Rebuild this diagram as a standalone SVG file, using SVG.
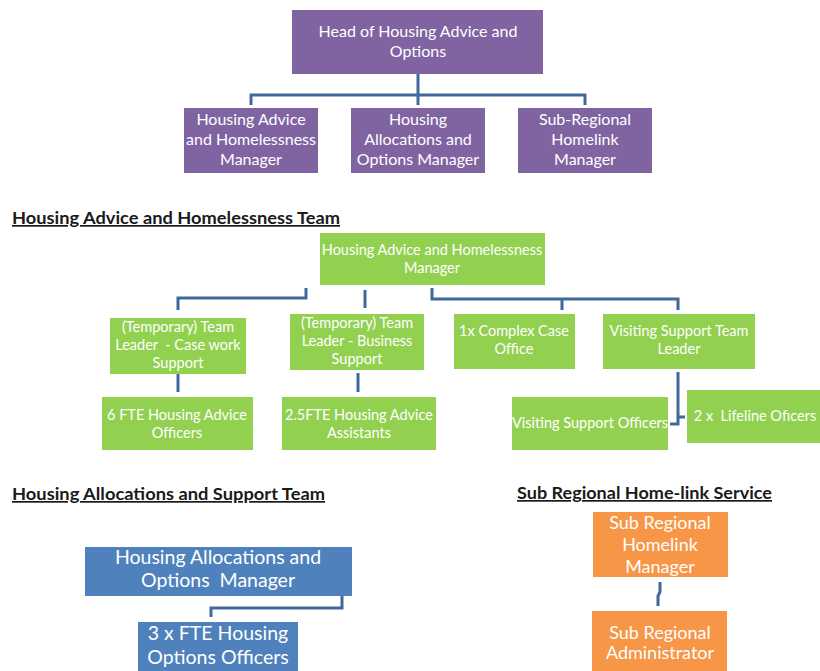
<svg xmlns="http://www.w3.org/2000/svg" width="820" height="671" viewBox="0 0 820 671">
<style>
.t{font-family:Lato,"Open Sans","Liberation Sans",sans-serif;fill:#fff;text-anchor:middle;white-space:pre}
.s15{font-size:16px}
.s14{font-size:14.5px}
.s19{font-size:19.5px}
.s17{font-size:18px}
.purple{fill:#8064A2}
.green{fill:#92D050}
.blue{fill:#4F81BD}
.orange{fill:#F79646}
.h{font-family:Lato,"Liberation Sans",sans-serif;font-weight:bold;font-size:17px;fill:#1a1a1a;text-decoration:underline}
.c{fill:none;stroke:#41689A;stroke-width:3}
</style>
<rect width="820" height="671" fill="#fff"/>
<g id="connectors">
<path class="c" d="M418 74V105M251 105V95H585V105"/>
<path class="c" d="M306 288V298H178V310"/>
<path class="c" d="M365 290V308"/>
<path class="c" d="M432 288V299H678V310M562 299V310"/>
<path class="c" d="M178 373V392"/>
<path class="c" d="M358 373V392"/>
<path class="c" d="M678 372V424H670M678 417H685"/>
<path class="c" d="M342 596V608H211V617"/>
<path class="c" d="M660 582V592L658 596V606"/>
</g>
<g id="head">
<rect class="purple" x="292" y="10" width="251" height="64"/>
<text class="t s15" x="418" y="37">Head of Housing Advice and</text>
<text class="t s15" x="418" y="57">Options</text>
</g>
<g id="hahm">
<rect class="purple" x="184" y="108" width="134" height="65"/>
<text class="t s15" x="251" y="125">Housing Advice</text>
<text class="t s15" x="251" y="145">and Homelessness</text>
<text class="t s15" x="251" y="165">Manager</text>
</g>
<g id="haom">
<rect class="purple" x="351" y="108" width="134" height="65"/>
<text class="t s15" x="418" y="125">Housing</text>
<text class="t s15" x="418" y="145">Allocations and</text>
<text class="t s15" x="418" y="165">Options Manager</text>
</g>
<g id="srhm">
<rect class="purple" x="518" y="108" width="134" height="65"/>
<text class="t s15" x="585" y="125">Sub-Regional</text>
<text class="t s15" x="585" y="145">Homelink</text>
<text class="t s15" x="585" y="165">Manager</text>
</g>
<text class="h" x="12" y="224" textLength="328" lengthAdjust="spacingAndGlyphs">Housing Advice and Homelessness Team</text>
<g id="green-manager">
<rect class="green" x="320" y="233" width="225" height="52"/>
<text class="t s14" x="432" y="255">Housing Advice and Homelessness</text>
<text class="t s14" x="432" y="273">Manager</text>
</g>
<g id="tl-case">
<rect class="green" x="110" y="318" width="136" height="56"/>
<text class="t s14" x="178" y="332">(Temporary) Team</text>
<text class="t s14" x="178" y="350">Leader  - Case work</text>
<text class="t s14" x="178" y="368">Support</text>
</g>
<g id="tl-business">
<rect class="green" x="290" y="314" width="134" height="56"/>
<text class="t s14" x="357" y="328">(Temporary) Team</text>
<text class="t s14" x="357" y="346">Leader - Business</text>
<text class="t s14" x="357" y="364">Support</text>
</g>
<g id="complex">
<rect class="green" x="454" y="314" width="121" height="55"/>
<text class="t s14" x="514" y="336">1x Complex Case</text>
<text class="t s14" x="514" y="354">Office</text>
</g>
<g id="vstl">
<rect class="green" x="603" y="314" width="152" height="55"/>
<text class="t s14" x="679" y="336">Visiting Support Team</text>
<text class="t s14" x="679" y="354">Leader</text>
</g>
<g id="hao">
<rect class="green" x="102" y="397" width="151" height="53"/>
<text class="t s14" x="177" y="420">6 FTE Housing Advice</text>
<text class="t s14" x="177" y="438">Officers</text>
</g>
<g id="haa">
<rect class="green" x="282" y="397" width="154" height="53"/>
<text class="t s14" x="359" y="420">2.5FTE Housing Advice</text>
<text class="t s14" x="359" y="438">Assistants</text>
</g>
<g id="vso">
<rect class="green" x="512" y="397" width="156" height="53"/>
<text class="t s14" x="590" y="428">Visiting Support Officers</text>
</g>
<g id="lifeline">
<rect class="green" x="687" y="390" width="133" height="53"/>
<text class="t s14" x="755" y="421">2 x  Lifeline Oficers</text>
</g>
<text class="h" x="12" y="500" textLength="313" lengthAdjust="spacingAndGlyphs">Housing Allocations and Support Team</text>
<text class="h" x="517" y="499" textLength="255" lengthAdjust="spacingAndGlyphs">Sub Regional Home-link Service</text>
<g id="alloc-manager">
<rect class="blue" x="85" y="547" width="267" height="49"/>
<text class="t s19" x="218" y="564">Housing Allocations and</text>
<text class="t s19" x="218" y="587">Options  Manager</text>
</g>
<g id="options-officers">
<rect class="blue" x="138" y="622" width="160" height="49"/>
<text class="t s19" x="218" y="640">3 x FTE Housing</text>
<text class="t s19" x="218" y="664">Options Officers</text>
</g>
<g id="sr-manager">
<rect class="orange" x="593" y="512" width="135" height="65"/>
<text class="t s17" x="660" y="529">Sub Regional</text>
<text class="t s17" x="660" y="551">Homelink</text>
<text class="t s17" x="660" y="573">Manager</text>
</g>
<g id="sr-admin">
<rect class="orange" x="592" y="611" width="135" height="60"/>
<text class="t s17" x="660" y="639">Sub Regional</text>
<text class="t s17" x="660" y="659">Administrator</text>
</g>
</svg>
